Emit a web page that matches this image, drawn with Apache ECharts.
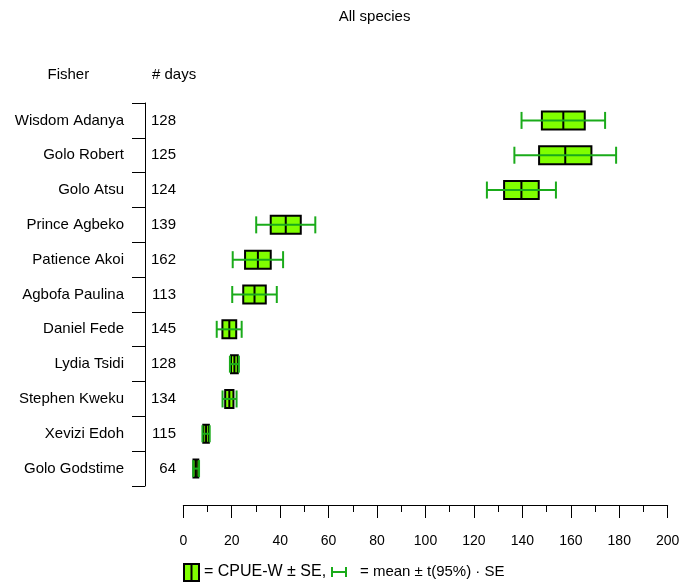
<!DOCTYPE html>
<html>
<head>
<meta charset="utf-8">
<script src="https://cdn.jsdelivr.net/npm/echarts@6/dist/echarts.min.js"></script>
<style>
  html, body { margin: 0; padding: 0; background: #fff; }
  #chart { width: 679px; height: 584px; }
</style>
</head>
<body>
<div id="chart"></div>
<script>
// Catch per unit effort by fisher, all species
const fishers = ['Wisdom Adanya', 'Golo Robert', 'Golo Atsu', 'Prince Agbeko', 'Patience Akoi',
  'Agbofa Paulina', 'Daniel Fede', 'Lydia Tsidi', 'Stephen Kweku', 'Xevizi Edoh', 'Golo Godstime'];
const days = [128, 125, 124, 139, 162, 113, 145, 128, 134, 115, 64];
// weighted CPUE and its standard error (box)
const cpueW = [156.9, 157.7, 139.6, 42.3, 30.8, 29.4, 19.0, 21.1, 19.0, 9.4, 5.2];
const cpueSE = [8.85, 10.8, 7.15, 6.2, 5.3, 4.65, 2.85, 1.4, 1.7, 1.15, 1.0];
// mean CPUE and t(95%)·SE half-width (whiskers)
const meanCpue = [156.9, 157.7, 139.6, 42.3, 30.8, 29.4, 18.95, 21.1, 19.1, 9.4, 5.3];
const ci95 = [17.25, 21.0, 14.25, 12.2, 10.4, 9.2, 5.15, 1.85, 2.9, 1.5, 1.2];
const xTicks = { min: 0, max: 200, step: 20 };

const FONT = '"Liberation Sans", Arial, sans-serif';
const BOX_FILL = '#80ff00';
const WHISKER = '#1aab1a';

const rows = fishers.map((f, i) => [
  i,
  meanCpue[i] - ci95[i],
  cpueW[i] - cpueSE[i],
  cpueW[i],
  cpueW[i] + cpueSE[i],
  meanCpue[i] + ci95[i]
]);

function renderBox(params, api) {
  const idx = api.value(0);
  const y = api.coord([0, idx])[1];
  const px = v => api.coord([v, idx])[0];
  const wl = px(api.value(1)), bl = px(api.value(2)), md = px(api.value(3));
  const bh = px(api.value(4)), wh = px(api.value(5));
  const boxH = 18, capH = 17;
  return {
    type: 'group',
    children: [
      { type: 'rect', shape: { x: bl, y: y - boxH / 2, width: bh - bl, height: boxH },
        style: { fill: BOX_FILL, stroke: '#000', lineWidth: 2 } },
      { type: 'line', shape: { x1: md, y1: y - boxH / 2, x2: md, y2: y + boxH / 2 },
        style: { stroke: '#000', lineWidth: 2 } },
      { type: 'line', shape: { x1: wl, y1: y, x2: wh, y2: y },
        style: { stroke: WHISKER, lineWidth: 2 } },
      { type: 'line', shape: { x1: wl, y1: y - capH / 2, x2: wl, y2: y + capH / 2 },
        style: { stroke: WHISKER, lineWidth: 2 } },
      { type: 'line', shape: { x1: wh, y1: y - capH / 2, x2: wh, y2: y + capH / 2 },
        style: { stroke: WHISKER, lineWidth: 2 } }
    ]
  };
}

const chart = echarts.init(document.getElementById('chart'), null, { renderer: 'canvas' });

const legendY = 572;
chart.setOption({
  animation: false,
  backgroundColor: '#fff',
  textStyle: { fontFamily: FONT },
  grid: { left: 183.3, right: 11.3, top: 103, bottom: 98, containLabel: false, outerBoundsMode: 'none' },
  xAxis: {
    type: 'value', min: xTicks.min, max: xTicks.max, interval: xTicks.step,
    position: 'bottom', offset: 19,
    axisLine: { show: true, onZero: false, lineStyle: { color: '#000', width: 1 } },
    axisTick: { show: true, length: 13, lineStyle: { color: '#000', width: 1 } },
    minorTick: { show: true, splitNumber: 2, length: 7, lineStyle: { color: '#000', width: 1 } },
    splitLine: { show: false },
    axisLabel: { margin: 29, color: '#000', fontSize: 14, fontFamily: FONT }
  },
  yAxis: [
    {
      type: 'category', data: fishers, inverse: true, position: 'left', offset: 38.3,
      axisLine: { show: true, onZero: false, lineStyle: { color: '#000', width: 1 } },
      axisTick: { show: true, length: 13, alignWithLabel: false, lineStyle: { color: '#000', width: 1 } },
      axisLabel: { margin: 21, color: '#000', fontSize: 15, fontFamily: FONT },
      splitLine: { show: false }
    },
    {
      type: 'category', data: days.map(String), inverse: true, position: 'left', offset: 7.3,
      axisLine: { show: false, onZero: false }, axisTick: { show: false },
      axisLabel: { margin: 0, color: '#000', fontSize: 15, fontFamily: FONT },
      splitLine: { show: false }
    }
  ],
  series: [{
    type: 'custom',
    renderItem: renderBox,
    data: rows,
    encode: { x: [1, 2, 3, 4, 5], y: 0 },
    yAxisIndex: 0,
    clip: false
  }],
  graphic: [
    { type: 'text', left: 374.7 - 36, top: 9,
      style: { text: 'All species', fill: '#000', font: '15px ' + FONT } },
    { type: 'text', x: 68.3, y: 75,
      style: { text: 'Fisher', fill: '#000', font: '15px ' + FONT, align: 'center', verticalAlign: 'middle' } },
    { type: 'text', x: 152, y: 75,
      style: { text: '# days', fill: '#000', font: '15px ' + FONT, align: 'left', verticalAlign: 'middle' } },
    // legend: box symbol
    { type: 'rect', shape: { x: 184, y: legendY - 8, width: 15, height: 17 },
      style: { fill: BOX_FILL, stroke: '#000', lineWidth: 2 } },
    { type: 'line', shape: { x1: 191.5, y1: legendY - 8, x2: 191.5, y2: legendY + 9 },
      style: { stroke: '#000', lineWidth: 2 } },
    { type: 'text', x: 204, y: legendY,
      style: { text: '= CPUE-W \u00b1 SE,', fill: '#000', font: '16px ' + FONT, verticalAlign: 'middle' } },
    // legend: whisker symbol
    { type: 'line', shape: { x1: 332, y1: legendY, x2: 346, y2: legendY },
      style: { stroke: WHISKER, lineWidth: 2 } },
    { type: 'line', shape: { x1: 332, y1: legendY - 5, x2: 332, y2: legendY + 5 },
      style: { stroke: WHISKER, lineWidth: 2 } },
    { type: 'line', shape: { x1: 346, y1: legendY - 5, x2: 346, y2: legendY + 5 },
      style: { stroke: WHISKER, lineWidth: 2 } },
    { type: 'text', x: 360, y: legendY,
      style: { text: '= mean \u00b1 t(95%) \u00b7 SE', fill: '#000', font: '15px ' + FONT, verticalAlign: 'middle' } }
  ]
});
</script>
</body>
</html>
